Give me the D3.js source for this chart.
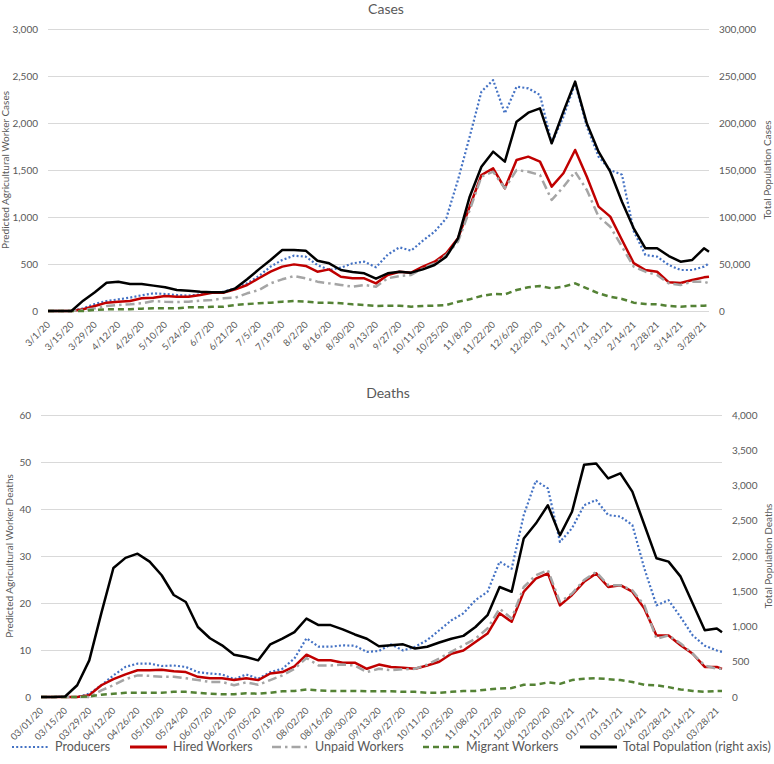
<!DOCTYPE html>
<html><head><meta charset="utf-8">
<script src="https://cdn.jsdelivr.net/npm/d3@7"></script>
<style>body{margin:0;background:#fff}svg{display:block;font-family:Lato,"Open Sans",sans-serif}</style>
</head><body><svg id="c" width="774" height="764"></svg>
<script>
// ---- data (weekly readings) ----
const dates = ["2020-03-01","2020-03-08","2020-03-15","2020-03-22","2020-03-29","2020-04-05","2020-04-12","2020-04-19","2020-04-26","2020-05-03","2020-05-10","2020-05-17","2020-05-24","2020-05-31","2020-06-07","2020-06-14","2020-06-21","2020-06-28","2020-07-05","2020-07-12","2020-07-19","2020-07-26","2020-08-02","2020-08-09","2020-08-16","2020-08-23","2020-08-30","2020-09-06","2020-09-13","2020-09-20","2020-09-27","2020-10-04","2020-10-11","2020-10-18","2020-10-25","2020-11-01","2020-11-08","2020-11-15","2020-11-22","2020-11-29","2020-12-06","2020-12-13","2020-12-20","2020-12-27","2021-01-03","2021-01-10","2021-01-17","2021-01-24","2021-01-31","2021-02-07","2021-02-14","2021-02-21","2021-02-28","2021-03-07","2021-03-14","2021-03-21","2021-03-28","2021-03-31"];

const casesProducers = [0,0,0,28,74,106,124,142,167,188,181,170,163,177,195,206,241,294,372,472,543,589,578,489,436,461,507,525,465,600,677,642,748,844,986,1394,1855,2333,2457,2103,2386,2369,2298,1784,2067,2422,1961,1642,1500,1450,850,596,578,489,436,436,472,507];
const casesHired = [0,0,0,18,53,89,99,106,135,142,160,152,152,170,195,195,230,277,348,418,472,496,479,418,443,365,348,348,294,383,418,408,472,525,614,773,1110,1447,1518,1305,1606,1642,1589,1323,1465,1713,1429,1110,1004,755,510,436,418,305,298,330,358,365];
const casesUnpaid = [0,0,0,11,28,53,64,71,82,106,99,96,99,110,117,135,142,188,223,294,337,372,348,312,294,277,259,277,259,348,372,383,454,507,596,738,1074,1429,1482,1305,1500,1482,1447,1181,1320,1482,1287,1004,897,684,472,418,383,294,277,312,312,294];
const casesMigrant = [0,0,0,0,11,18,18,18,25,28,28,28,39,39,46,46,64,74,82,89,99,106,99,89,89,82,71,64,53,57,57,46,53,57,64,99,124,160,181,177,223,252,266,241,259,294,241,188,152,128,89,74,71,53,46,53,57,60];
const casesTotal = [0,0,0,11000,20000,30000,31200,28700,28700,27000,25200,22300,21600,20600,19900,19900,24100,33700,44300,54300,64900,64900,64200,53500,50700,43600,41500,40100,34400,40100,41800,40800,44300,48900,57800,77300,121600,153500,169500,158900,201400,211000,215600,178400,212100,244000,199600,169500,148200,116300,88000,66700,66700,58500,52500,54300,66700,63100];

const deathsProducers = [0,0,0,0,0.7,2.5,4.6,6.4,7.1,7.1,6.6,6.7,6.4,5.3,5.0,4.8,3.8,4.8,3.9,5.3,6.0,8.2,12.5,10.7,10.7,11.0,10.9,9.6,9.8,11.2,9.9,10.7,12.1,14.2,16.3,17.8,20.6,22.4,28.8,27.3,38.7,46.0,44.4,33.0,35.9,40.8,41.9,38.7,38.4,36.6,27.3,19.5,20.6,17.0,13.1,10.9,9.9,9.6];
const deathsHired = [0,0,0,0,0.4,2.5,3.8,4.8,5.7,5.7,5.8,5.5,5.3,4.3,4.0,4.0,3.6,4.0,3.6,5.0,5.3,6.5,9.0,7.8,7.8,7.3,7.3,6.0,6.9,6.4,6.2,6.0,6.7,7.5,9.2,9.9,11.7,13.5,17.8,16.0,22.4,25.2,26.3,19.5,21.7,24.5,26.3,23.4,23.8,22.4,18.8,13.1,13.1,11.0,9.2,6.4,6.4,6.0];
const deathsUnpaid = [0,0,0,0,0,1.4,2.5,3.8,4.6,4.5,4.3,4.3,4.0,3.6,3.2,3.2,2.5,3.1,2.6,3.6,4.6,6.0,8.3,6.7,6.7,6.9,6.7,5.3,6.0,5.7,5.9,6.0,6.9,8.2,9.6,11.0,12.4,14.6,18.8,16.7,23.4,25.9,27.0,20.2,22.0,24.9,26.6,23.8,23.8,22.7,19.5,12.4,13.1,11.4,9.2,6.7,6.0,6.0];
const deathsMigrant = [0,0,0,0,0.1,0.5,0.7,0.9,0.9,0.9,0.9,1.1,1.1,0.9,0.7,0.6,0.6,0.8,0.7,0.9,1.2,1.3,1.6,1.4,1.3,1.3,1.3,1.2,1.2,1.2,1.1,1.1,0.9,0.9,1.1,1.3,1.3,1.6,1.8,1.9,2.6,2.6,3.1,2.8,3.6,3.9,4.0,3.8,3.6,3.2,2.6,2.5,2.1,1.6,1.3,1.1,1.3,1.3];
const deathsTotal = [0,0,7,167,520,1190,1830,1973,2033,1920,1727,1447,1347,993,833,733,600,567,520,747,827,920,1113,1020,1020,960,887,827,720,733,747,687,713,773,827,867,993,1160,1560,1493,2247,2460,2720,2293,2627,3293,3313,3100,3173,2913,2440,1967,1920,1707,1327,947,973,920];

const casesTickLabels = ["3/1/20","3/15/20","3/29/20","4/12/20","4/26/20","5/10/20","5/24/20","6/7/20","6/21/20","7/5/20","7/19/20","8/2/20","8/16/20","8/30/20","9/13/20","9/27/20","10/11/20","10/25/20","11/8/20","11/22/20","12/6/20","12/20/20","1/3/21","1/17/21","1/31/21","2/14/21","2/28/21","3/14/21","3/28/21"];
const deathsTickLabels = ["03/01/20","03/15/20","03/29/20","04/12/20","04/26/20","05/10/20","05/24/20","06/07/20","06/21/20","07/05/20","07/19/20","08/02/20","08/16/20","08/30/20","09/13/20","09/27/20","10/11/20","10/25/20","11/08/20","11/22/20","12/06/20","12/20/20","01/03/21","01/17/21","01/31/21","02/14/21","02/28/21","03/14/21","03/28/21"];

const seriesNames = ["Producers","Hired Workers","Unpaid Workers","Migrant Workers","Total Population (right axis)"];

// ---- styles ----
const styles = [
  {color:"#4472C4", width:2.2, dash:"2,2.2"},
  {color:"#C00000", width:2.5, dash:null},
  {color:"#A5A5A5", width:2.5, dash:"9,4,2.5,4"},
  {color:"#548235", width:2.5, dash:"6,4"},
  {color:"#000000", width:2.5, dash:null}
];
const textColor = "#595959", gridColor = "#D9D9D9";

const svg = d3.select("#c");
const parse = d3.timeParse("%Y-%m-%d");
const dateObjs = dates.map(parse);
const fmt = d3.format(",");

function drawChart(cfg){
  const g = svg.append("g");
  const x = d3.scaleTime().domain([parse("2020-03-01"), parse("2021-03-31")]).range([cfg.left, cfg.right]);
  const yL = d3.scaleLinear().domain([0, cfg.lMax]).range([cfg.bottom, cfg.top]);
  const yR = d3.scaleLinear().domain([0, cfg.rMax]).range([cfg.bottom, cfg.top]);

  g.append("g").selectAll("line").data(d3.range(0, cfg.lMax + 1e-9, cfg.lStep)).join("line")
    .attr("x1", cfg.left).attr("x2", cfg.right)
    .attr("y1", d => Math.round(yL(d)) + 0.5).attr("y2", d => Math.round(yL(d)) + 0.5)
    .attr("stroke", gridColor).attr("stroke-width", 1);

  const la = g.append("g").attr("transform", `translate(${cfg.left},0)`)
    .call(d3.axisLeft(yL).tickValues(d3.range(0, cfg.lMax + 1e-9, cfg.lStep)).tickFormat(fmt).tickSize(0).tickPadding(cfg.lPad));
  la.select(".domain").remove();
  la.selectAll("text").attr("fill", textColor).style("font-size", "10px").style("font-family", "Lato");

  const ra = g.append("g").attr("transform", `translate(${cfg.right},0)`)
    .call(d3.axisRight(yR).tickValues(d3.range(0, cfg.rMax + 1e-9, cfg.rStep)).tickFormat(fmt).tickSize(0).tickPadding(cfg.rPad));
  ra.select(".domain").remove();
  ra.selectAll("text").attr("fill", textColor).style("font-size", "10px").style("font-family", "Lato");

  const tickDates = cfg.tickLabels.map(s => d3.timeParse(cfg.tickFmt)(s));
  const xa = g.append("g").attr("transform", `translate(0,${cfg.bottom})`)
    .call(d3.axisBottom(x).tickValues(tickDates).tickFormat((d,i) => cfg.tickLabels[i]).tickSize(0).tickPadding(0));
  xa.select(".domain").remove();
  xa.selectAll("text").attr("fill", textColor).style("font-size", "9.5px").style("font-family", "Lato")
    .attr("text-anchor", "end").attr("dy", "0.35em")
    .attr("transform", "translate(0,12) rotate(-45)");

  cfg.series.forEach((vals, i) => {
    const yS = i === 4 ? yR : yL;
    const line = d3.line().x((d, j) => x(dateObjs[j])).y(d => yS(d)).curve(d3.curveLinear);
    const st = styles[i];
    g.append("path").datum(vals).attr("d", line).attr("fill", "none")
      .attr("stroke", st.color).attr("stroke-width", st.width)
      .attr("stroke-dasharray", st.dash).attr("stroke-linejoin", "round");
  });

  g.append("text").attr("x", cfg.titleX).attr("y", cfg.titleY).attr("text-anchor", "middle")
    .attr("fill", textColor).style("font-size", "14px").text(cfg.title);
  g.append("text").attr("transform", `translate(${cfg.lTitleX},${cfg.lTitleY}) rotate(-90)`)
    .attr("text-anchor", "middle").attr("fill", textColor).style("font-size", "10px").text(cfg.lTitle);
  g.append("text").attr("transform", `translate(${cfg.rTitleX},${cfg.rTitleY}) rotate(-90)`)
    .attr("text-anchor", "middle").attr("fill", textColor).style("font-size", "10px").text(cfg.rTitle);
}

drawChart({
  left:48, right:709, top:29, bottom:311, lMax:3000, lStep:500, rMax:300000, rStep:50000,
  lPad:10, rPad:10, tickLabels:casesTickLabels, tickFmt:"%m/%d/%y",
  series:[casesProducers, casesHired, casesUnpaid, casesMigrant, casesTotal],
  title:"Cases", titleX:386, titleY:14,
  lTitle:"Predicted Agricultural Worker Cases", lTitleX:9, lTitleY:170,
  rTitle:"Total Population Cases", rTitleX:771, rTitleY:170
});

drawChart({
  left:41, right:722, top:415, bottom:697, lMax:60, lStep:10, rMax:4000, rStep:500,
  lPad:10, rPad:10, tickLabels:deathsTickLabels, tickFmt:"%m/%d/%y",
  series:[deathsProducers, deathsHired, deathsUnpaid, deathsMigrant, deathsTotal],
  title:"Deaths", titleX:388, titleY:398,
  lTitle:"Predicted Agricultural Worker Deaths", lTitleX:13, lTitleY:556,
  rTitle:"Total Population Deaths", rTitleX:772, rTitleY:556
});

const legendX = [12, 130, 272, 423, 580];
const leg = svg.append("g").attr("transform", "translate(0,747)");
seriesNames.forEach((name, i) => {
  const st = styles[i];
  leg.append("line").attr("x1", legendX[i]).attr("x2", legendX[i] + 37).attr("y1", 0).attr("y2", 0)
    .attr("stroke", st.color).attr("stroke-width", i === 1 || i === 4 ? 3 : st.width).attr("stroke-dasharray", st.dash);
  leg.append("text").attr("x", legendX[i] + 43).attr("y", 0).attr("dy", "0.35em")
    .attr("fill", textColor).style("font-size", "12.5px").text(name);
});
</script></body></html>
